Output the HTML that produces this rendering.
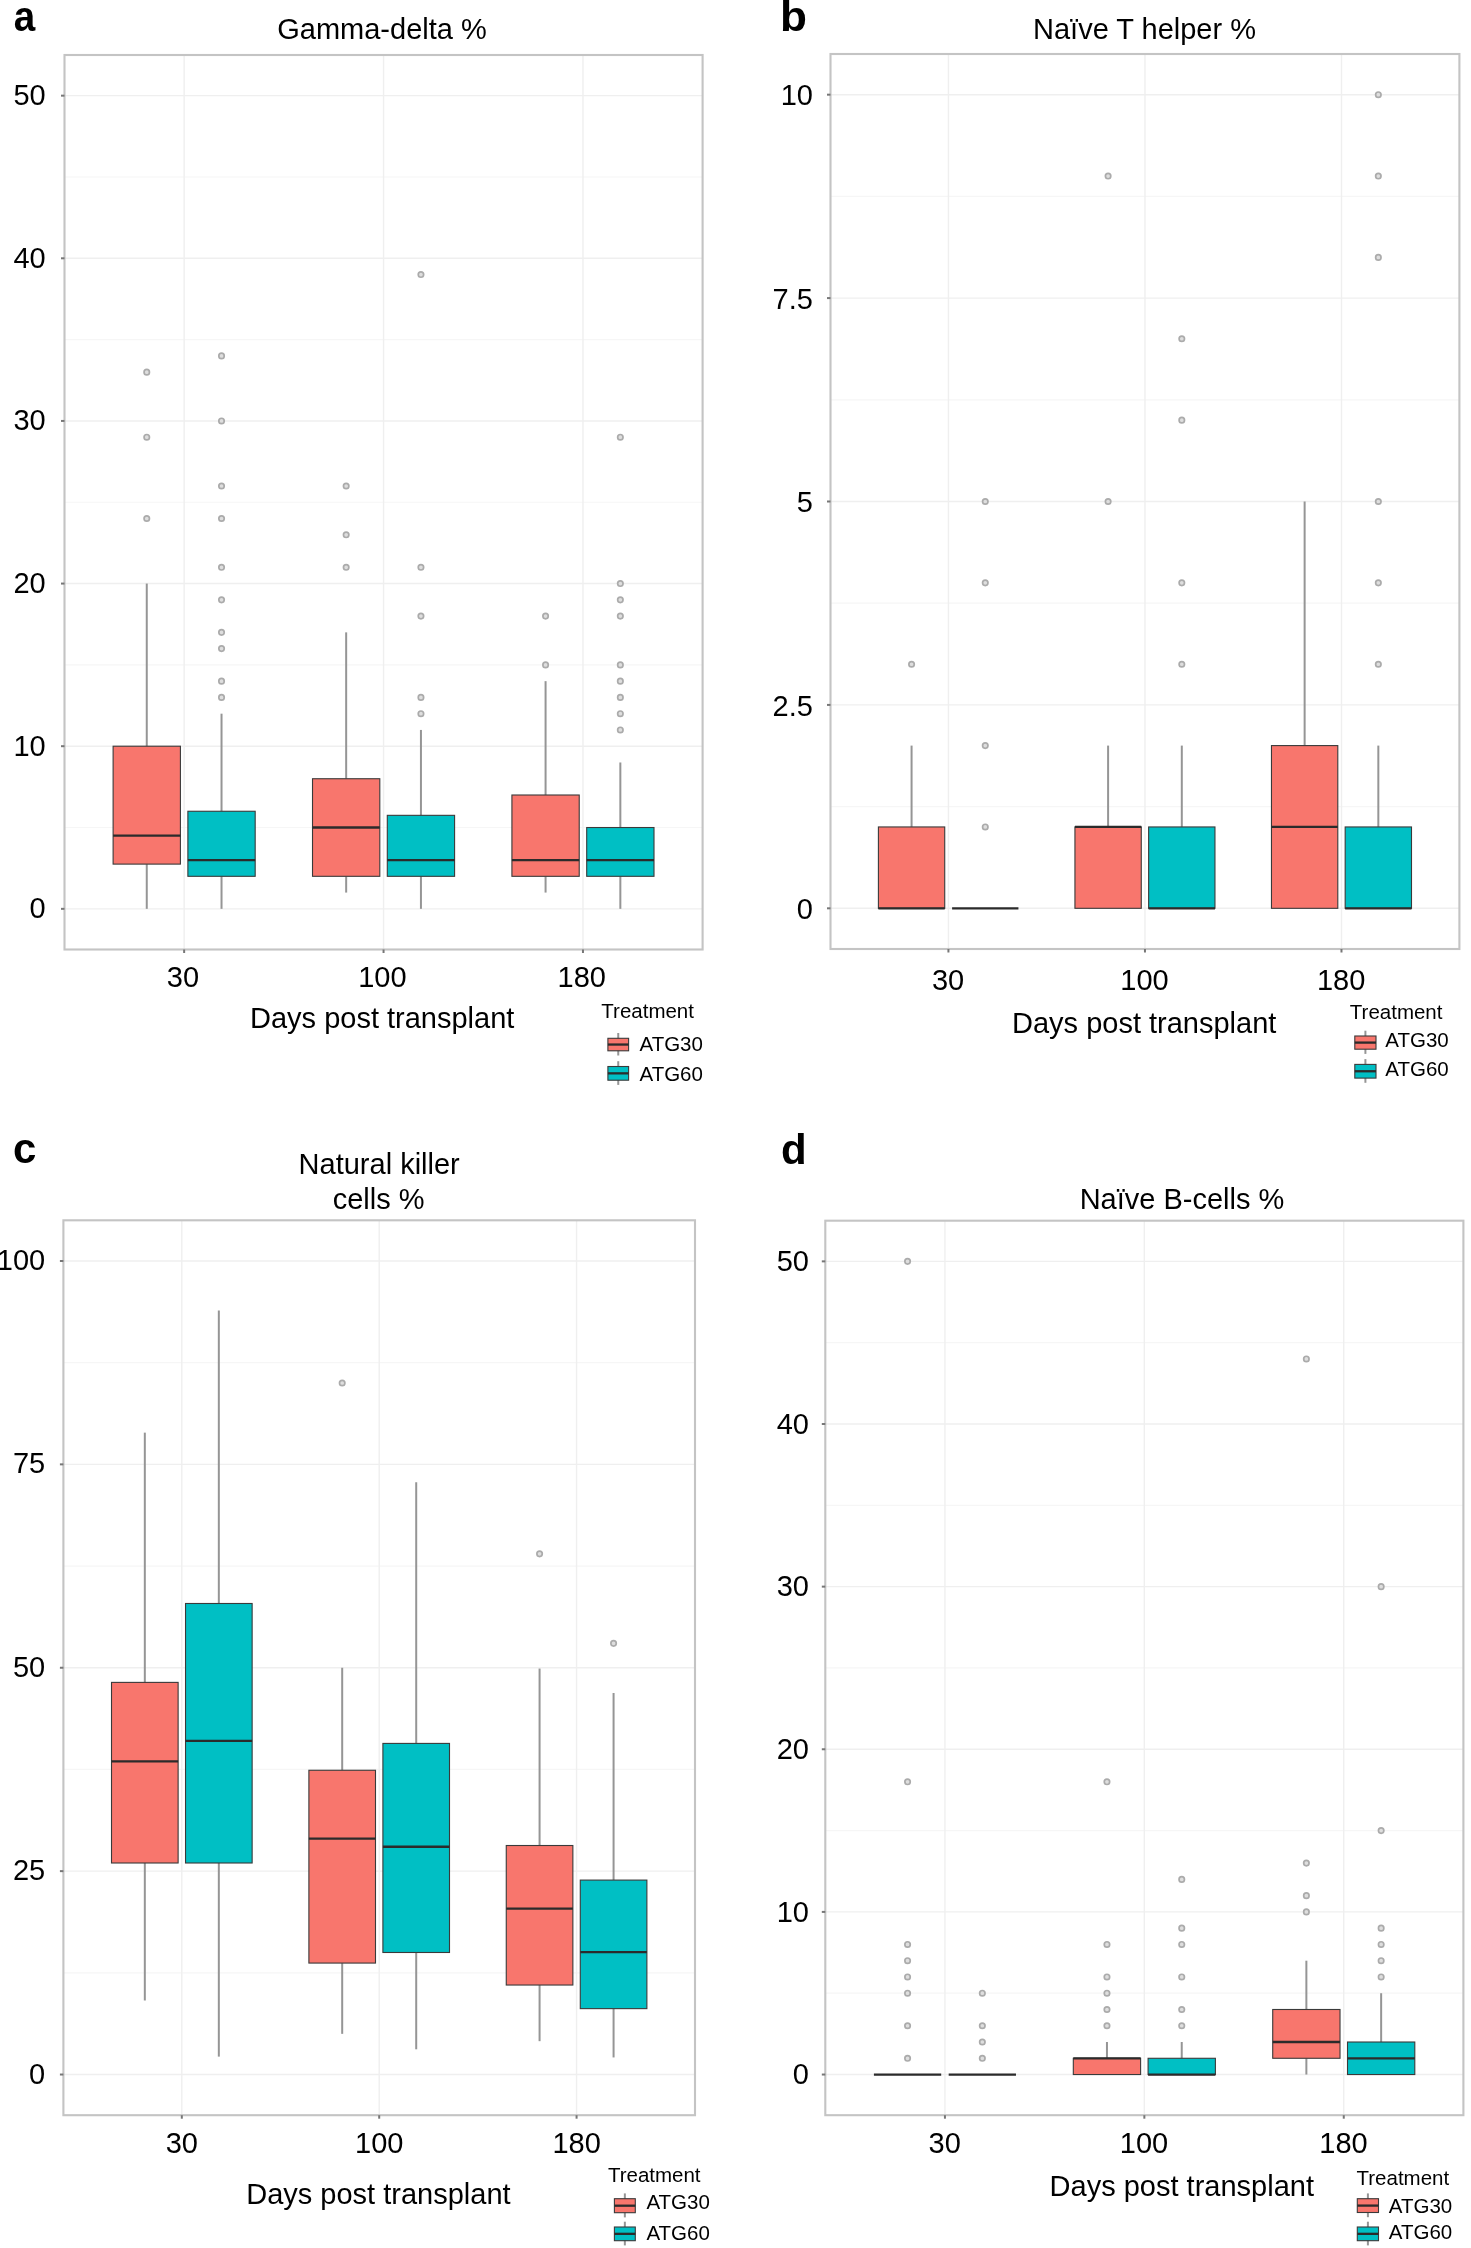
<!DOCTYPE html>
<html><head><meta charset="utf-8"><style>
html,body{margin:0;padding:0;background:#fff;}
svg{display:block;filter:blur(0.45px);}
text{font-family:"Liberation Sans", sans-serif;fill:#000;}
.g{stroke:#efefef;stroke-width:1.4;}
.gm{stroke:#f6f6f6;stroke-width:1.2;}
.w{stroke:#959595;stroke-width:2;}
.bx{stroke:#3a3a3a;stroke-width:1.1;}
.md{stroke:#2b2b2b;stroke-width:2.3;}
.o{fill:#dedede;stroke:#ababab;stroke-width:1.7;}
.bd{fill:none;stroke:#c4c4c4;stroke-width:2.1;}
.tk{stroke:#777;stroke-width:2;}
</style></head><body>
<svg width="1471" height="2248" viewBox="0 0 1471 2248">
<rect width="1471" height="2248" fill="#fff"/>
<line x1="64.5" x2="702.6" y1="827.52" y2="827.52" class="gm"/>
<line x1="64.5" x2="702.6" y1="664.89" y2="664.89" class="gm"/>
<line x1="64.5" x2="702.6" y1="502.25" y2="502.25" class="gm"/>
<line x1="64.5" x2="702.6" y1="339.61" y2="339.61" class="gm"/>
<line x1="64.5" x2="702.6" y1="176.98" y2="176.98" class="gm"/>
<line x1="64.5" x2="702.6" y1="908.84" y2="908.84" class="g"/>
<line x1="64.5" x2="702.6" y1="746.2" y2="746.2" class="g"/>
<line x1="64.5" x2="702.6" y1="583.57" y2="583.57" class="g"/>
<line x1="64.5" x2="702.6" y1="420.93" y2="420.93" class="g"/>
<line x1="64.5" x2="702.6" y1="258.3" y2="258.3" class="g"/>
<line x1="64.5" x2="702.6" y1="95.66" y2="95.66" class="g"/>
<line y1="55" y2="949.5" x1="184.14" x2="184.14" class="g"/>
<line y1="55" y2="949.5" x1="383.55" x2="383.55" class="g"/>
<line y1="55" y2="949.5" x1="582.96" x2="582.96" class="g"/>
<line x1="146.76" x2="146.76" y1="746.2" y2="583.57" class="w"/>
<line x1="146.76" x2="146.76" y1="864.12" y2="908.84" class="w"/>
<rect x="113.11" y="746.2" width="67.3" height="117.91" fill="#F8766D" class="bx"/>
<line x1="113.11" x2="180.4" y1="835.65" y2="835.65" class="md"/>
<circle cx="146.76" cy="518.51" r="2.7" class="o"/>
<circle cx="146.76" cy="437.2" r="2.7" class="o"/>
<circle cx="146.76" cy="372.14" r="2.7" class="o"/>
<line x1="221.53" x2="221.53" y1="811.26" y2="713.68" class="w"/>
<line x1="221.53" x2="221.53" y1="876.31" y2="908.84" class="w"/>
<rect x="187.88" y="811.26" width="67.3" height="65.05" fill="#00BFC4" class="bx"/>
<line x1="187.88" x2="255.18" y1="860.05" y2="860.05" class="md"/>
<circle cx="221.53" cy="697.41" r="2.7" class="o"/>
<circle cx="221.53" cy="681.15" r="2.7" class="o"/>
<circle cx="221.53" cy="648.62" r="2.7" class="o"/>
<circle cx="221.53" cy="632.36" r="2.7" class="o"/>
<circle cx="221.53" cy="599.83" r="2.7" class="o"/>
<circle cx="221.53" cy="567.3" r="2.7" class="o"/>
<circle cx="221.53" cy="518.51" r="2.7" class="o"/>
<circle cx="221.53" cy="485.99" r="2.7" class="o"/>
<circle cx="221.53" cy="420.93" r="2.7" class="o"/>
<circle cx="221.53" cy="355.88" r="2.7" class="o"/>
<line x1="346.16" x2="346.16" y1="778.73" y2="632.36" class="w"/>
<line x1="346.16" x2="346.16" y1="876.31" y2="892.58" class="w"/>
<rect x="312.51" y="778.73" width="67.3" height="97.58" fill="#F8766D" class="bx"/>
<line x1="312.51" x2="379.81" y1="827.52" y2="827.52" class="md"/>
<circle cx="346.16" cy="567.3" r="2.7" class="o"/>
<circle cx="346.16" cy="534.78" r="2.7" class="o"/>
<circle cx="346.16" cy="485.99" r="2.7" class="o"/>
<line x1="420.94" x2="420.94" y1="815.33" y2="729.94" class="w"/>
<line x1="420.94" x2="420.94" y1="876.31" y2="908.84" class="w"/>
<rect x="387.29" y="815.33" width="67.3" height="60.99" fill="#00BFC4" class="bx"/>
<line x1="387.29" x2="454.59" y1="860.05" y2="860.05" class="md"/>
<circle cx="420.94" cy="713.68" r="2.7" class="o"/>
<circle cx="420.94" cy="697.41" r="2.7" class="o"/>
<circle cx="420.94" cy="616.1" r="2.7" class="o"/>
<circle cx="420.94" cy="567.3" r="2.7" class="o"/>
<circle cx="420.94" cy="274.56" r="2.7" class="o"/>
<line x1="545.57" x2="545.57" y1="795" y2="681.15" class="w"/>
<line x1="545.57" x2="545.57" y1="876.31" y2="892.58" class="w"/>
<rect x="511.92" y="795" width="67.3" height="81.32" fill="#F8766D" class="bx"/>
<line x1="511.92" x2="579.22" y1="860.05" y2="860.05" class="md"/>
<circle cx="545.57" cy="664.89" r="2.7" class="o"/>
<circle cx="545.57" cy="616.1" r="2.7" class="o"/>
<line x1="620.34" x2="620.34" y1="827.52" y2="762.47" class="w"/>
<line x1="620.34" x2="620.34" y1="876.31" y2="908.84" class="w"/>
<rect x="586.7" y="827.52" width="67.3" height="48.79" fill="#00BFC4" class="bx"/>
<line x1="586.7" x2="653.99" y1="860.05" y2="860.05" class="md"/>
<circle cx="620.34" cy="729.94" r="2.7" class="o"/>
<circle cx="620.34" cy="713.68" r="2.7" class="o"/>
<circle cx="620.34" cy="697.41" r="2.7" class="o"/>
<circle cx="620.34" cy="681.15" r="2.7" class="o"/>
<circle cx="620.34" cy="664.89" r="2.7" class="o"/>
<circle cx="620.34" cy="616.1" r="2.7" class="o"/>
<circle cx="620.34" cy="599.83" r="2.7" class="o"/>
<circle cx="620.34" cy="583.57" r="2.7" class="o"/>
<circle cx="620.34" cy="437.2" r="2.7" class="o"/>
<rect x="64.5" y="55" width="638.1" height="894.5" class="bd"/>
<line x1="61" x2="64.5" y1="908.84" y2="908.84" class="tk"/>
<line x1="61" x2="64.5" y1="746.2" y2="746.2" class="tk"/>
<line x1="61" x2="64.5" y1="583.57" y2="583.57" class="tk"/>
<line x1="61" x2="64.5" y1="420.93" y2="420.93" class="tk"/>
<line x1="61" x2="64.5" y1="258.3" y2="258.3" class="tk"/>
<line x1="61" x2="64.5" y1="95.66" y2="95.66" class="tk"/>
<line y1="949.5" y2="953" x1="184.14" x2="184.14" class="tk"/>
<line y1="949.5" y2="953" x1="383.55" x2="383.55" class="tk"/>
<line y1="949.5" y2="953" x1="582.96" x2="582.96" class="tk"/>
<line x1="830.5" x2="1459.4" y1="806.61" y2="806.61" class="gm"/>
<line x1="830.5" x2="1459.4" y1="603.2" y2="603.2" class="gm"/>
<line x1="830.5" x2="1459.4" y1="399.8" y2="399.8" class="gm"/>
<line x1="830.5" x2="1459.4" y1="196.39" y2="196.39" class="gm"/>
<line x1="830.5" x2="1459.4" y1="908.32" y2="908.32" class="g"/>
<line x1="830.5" x2="1459.4" y1="704.91" y2="704.91" class="g"/>
<line x1="830.5" x2="1459.4" y1="501.5" y2="501.5" class="g"/>
<line x1="830.5" x2="1459.4" y1="298.09" y2="298.09" class="g"/>
<line x1="830.5" x2="1459.4" y1="94.68" y2="94.68" class="g"/>
<line y1="54" y2="949" x1="948.42" x2="948.42" class="g"/>
<line y1="54" y2="949" x1="1144.95" x2="1144.95" class="g"/>
<line y1="54" y2="949" x1="1341.48" x2="1341.48" class="g"/>
<line x1="911.57" x2="911.57" y1="826.95" y2="745.59" class="w"/>
<rect x="878.4" y="826.95" width="66.33" height="81.36" fill="#F8766D" class="bx"/>
<line x1="878.4" x2="944.73" y1="908.32" y2="908.32" class="md"/>
<circle cx="911.57" cy="664.23" r="2.7" class="o"/>
<rect x="952.1" y="908.32" width="66.33" height="0" fill="#00BFC4" class="bx"/>
<line x1="952.1" x2="1018.43" y1="908.32" y2="908.32" class="md"/>
<circle cx="985.27" cy="826.95" r="2.7" class="o"/>
<circle cx="985.27" cy="745.59" r="2.7" class="o"/>
<circle cx="985.27" cy="582.86" r="2.7" class="o"/>
<circle cx="985.27" cy="501.5" r="2.7" class="o"/>
<line x1="1108.1" x2="1108.1" y1="826.95" y2="745.59" class="w"/>
<rect x="1074.94" y="826.95" width="66.33" height="81.36" fill="#F8766D" class="bx"/>
<line x1="1074.94" x2="1141.27" y1="826.95" y2="826.95" class="md"/>
<circle cx="1108.1" cy="501.5" r="2.7" class="o"/>
<circle cx="1108.1" cy="176.05" r="2.7" class="o"/>
<line x1="1181.8" x2="1181.8" y1="826.95" y2="745.59" class="w"/>
<rect x="1148.63" y="826.95" width="66.33" height="81.36" fill="#00BFC4" class="bx"/>
<line x1="1148.63" x2="1214.96" y1="908.32" y2="908.32" class="md"/>
<circle cx="1181.8" cy="664.23" r="2.7" class="o"/>
<circle cx="1181.8" cy="582.86" r="2.7" class="o"/>
<circle cx="1181.8" cy="420.14" r="2.7" class="o"/>
<circle cx="1181.8" cy="338.77" r="2.7" class="o"/>
<line x1="1304.63" x2="1304.63" y1="745.59" y2="501.5" class="w"/>
<rect x="1271.47" y="745.59" width="66.33" height="162.73" fill="#F8766D" class="bx"/>
<line x1="1271.47" x2="1337.8" y1="826.95" y2="826.95" class="md"/>
<line x1="1378.33" x2="1378.33" y1="826.95" y2="745.59" class="w"/>
<rect x="1345.17" y="826.95" width="66.33" height="81.36" fill="#00BFC4" class="bx"/>
<line x1="1345.17" x2="1411.5" y1="908.32" y2="908.32" class="md"/>
<circle cx="1378.33" cy="664.23" r="2.7" class="o"/>
<circle cx="1378.33" cy="582.86" r="2.7" class="o"/>
<circle cx="1378.33" cy="501.5" r="2.7" class="o"/>
<circle cx="1378.33" cy="257.41" r="2.7" class="o"/>
<circle cx="1378.33" cy="176.05" r="2.7" class="o"/>
<circle cx="1378.33" cy="94.68" r="2.7" class="o"/>
<rect x="830.5" y="54" width="628.9" height="895" class="bd"/>
<line x1="827" x2="830.5" y1="908.32" y2="908.32" class="tk"/>
<line x1="827" x2="830.5" y1="704.91" y2="704.91" class="tk"/>
<line x1="827" x2="830.5" y1="501.5" y2="501.5" class="tk"/>
<line x1="827" x2="830.5" y1="298.09" y2="298.09" class="tk"/>
<line x1="827" x2="830.5" y1="94.68" y2="94.68" class="tk"/>
<line y1="949" y2="952.5" x1="948.42" x2="948.42" class="tk"/>
<line y1="949" y2="952.5" x1="1144.95" x2="1144.95" class="tk"/>
<line y1="949" y2="952.5" x1="1341.48" x2="1341.48" class="tk"/>
<line x1="63.4" x2="695" y1="1972.83" y2="1972.83" class="gm"/>
<line x1="63.4" x2="695" y1="1769.44" y2="1769.44" class="gm"/>
<line x1="63.4" x2="695" y1="1566.06" y2="1566.06" class="gm"/>
<line x1="63.4" x2="695" y1="1362.67" y2="1362.67" class="gm"/>
<line x1="63.4" x2="695" y1="2074.52" y2="2074.52" class="g"/>
<line x1="63.4" x2="695" y1="1871.14" y2="1871.14" class="g"/>
<line x1="63.4" x2="695" y1="1667.75" y2="1667.75" class="g"/>
<line x1="63.4" x2="695" y1="1464.36" y2="1464.36" class="g"/>
<line x1="63.4" x2="695" y1="1260.98" y2="1260.98" class="g"/>
<line y1="1220.3" y2="2115.2" x1="181.82" x2="181.82" class="g"/>
<line y1="1220.3" y2="2115.2" x1="379.2" x2="379.2" class="g"/>
<line y1="1220.3" y2="2115.2" x1="576.58" x2="576.58" class="g"/>
<line x1="144.82" x2="144.82" y1="1682.39" y2="1432.64" class="w"/>
<line x1="144.82" x2="144.82" y1="1863" y2="2000.49" class="w"/>
<rect x="111.51" y="1682.39" width="66.61" height="180.61" fill="#F8766D" class="bx"/>
<line x1="111.51" x2="178.12" y1="1761.31" y2="1761.31" class="md"/>
<line x1="218.83" x2="218.83" y1="1603.48" y2="1310.6" class="w"/>
<line x1="218.83" x2="218.83" y1="1863" y2="2056.62" class="w"/>
<rect x="185.53" y="1603.48" width="66.61" height="259.52" fill="#00BFC4" class="bx"/>
<line x1="185.53" x2="252.14" y1="1740.97" y2="1740.97" class="md"/>
<line x1="342.19" x2="342.19" y1="1770.26" y2="1667.75" class="w"/>
<line x1="342.19" x2="342.19" y1="1963.07" y2="2033.85" class="w"/>
<rect x="308.89" y="1770.26" width="66.61" height="192.81" fill="#F8766D" class="bx"/>
<line x1="308.89" x2="375.5" y1="1838.59" y2="1838.59" class="md"/>
<circle cx="342.19" cy="1383.01" r="2.7" class="o"/>
<line x1="416.21" x2="416.21" y1="1743.41" y2="1482.26" class="w"/>
<line x1="416.21" x2="416.21" y1="1952.49" y2="2049.3" class="w"/>
<rect x="382.9" y="1743.41" width="66.61" height="209.08" fill="#00BFC4" class="bx"/>
<line x1="382.9" x2="449.51" y1="1846.73" y2="1846.73" class="md"/>
<line x1="539.57" x2="539.57" y1="1845.51" y2="1668.56" class="w"/>
<line x1="539.57" x2="539.57" y1="1985.03" y2="2041.17" class="w"/>
<rect x="506.26" y="1845.51" width="66.61" height="139.52" fill="#F8766D" class="bx"/>
<line x1="506.26" x2="572.87" y1="1908.56" y2="1908.56" class="md"/>
<circle cx="539.57" cy="1553.85" r="2.7" class="o"/>
<line x1="613.58" x2="613.58" y1="1880.09" y2="1692.97" class="w"/>
<line x1="613.58" x2="613.58" y1="2008.63" y2="2057.44" class="w"/>
<rect x="580.28" y="1880.09" width="66.61" height="128.54" fill="#00BFC4" class="bx"/>
<line x1="580.28" x2="646.89" y1="1952.08" y2="1952.08" class="md"/>
<circle cx="613.58" cy="1643.34" r="2.7" class="o"/>
<rect x="63.4" y="1220.3" width="631.6" height="894.9" class="bd"/>
<line x1="59.9" x2="63.4" y1="2074.52" y2="2074.52" class="tk"/>
<line x1="59.9" x2="63.4" y1="1871.14" y2="1871.14" class="tk"/>
<line x1="59.9" x2="63.4" y1="1667.75" y2="1667.75" class="tk"/>
<line x1="59.9" x2="63.4" y1="1464.36" y2="1464.36" class="tk"/>
<line x1="59.9" x2="63.4" y1="1260.98" y2="1260.98" class="tk"/>
<line y1="2115.2" y2="2118.7" x1="181.82" x2="181.82" class="tk"/>
<line y1="2115.2" y2="2118.7" x1="379.2" x2="379.2" class="tk"/>
<line y1="2115.2" y2="2118.7" x1="576.58" x2="576.58" class="tk"/>
<line x1="825.3" x2="1463.4" y1="1993.22" y2="1993.22" class="gm"/>
<line x1="825.3" x2="1463.4" y1="1830.59" y2="1830.59" class="gm"/>
<line x1="825.3" x2="1463.4" y1="1667.95" y2="1667.95" class="gm"/>
<line x1="825.3" x2="1463.4" y1="1505.31" y2="1505.31" class="gm"/>
<line x1="825.3" x2="1463.4" y1="1342.68" y2="1342.68" class="gm"/>
<line x1="825.3" x2="1463.4" y1="2074.54" y2="2074.54" class="g"/>
<line x1="825.3" x2="1463.4" y1="1911.9" y2="1911.9" class="g"/>
<line x1="825.3" x2="1463.4" y1="1749.27" y2="1749.27" class="g"/>
<line x1="825.3" x2="1463.4" y1="1586.63" y2="1586.63" class="g"/>
<line x1="825.3" x2="1463.4" y1="1424" y2="1424" class="g"/>
<line x1="825.3" x2="1463.4" y1="1261.36" y2="1261.36" class="g"/>
<line y1="1220.7" y2="2115.2" x1="944.94" x2="944.94" class="g"/>
<line y1="1220.7" y2="2115.2" x1="1144.35" x2="1144.35" class="g"/>
<line y1="1220.7" y2="2115.2" x1="1343.76" x2="1343.76" class="g"/>
<rect x="873.91" y="2074.54" width="67.3" height="0" fill="#F8766D" class="bx"/>
<line x1="873.91" x2="941.2" y1="2074.54" y2="2074.54" class="md"/>
<circle cx="907.56" cy="2058.28" r="2.7" class="o"/>
<circle cx="907.56" cy="2025.75" r="2.7" class="o"/>
<circle cx="907.56" cy="1993.22" r="2.7" class="o"/>
<circle cx="907.56" cy="1976.96" r="2.7" class="o"/>
<circle cx="907.56" cy="1960.7" r="2.7" class="o"/>
<circle cx="907.56" cy="1944.43" r="2.7" class="o"/>
<circle cx="907.56" cy="1781.8" r="2.7" class="o"/>
<circle cx="907.56" cy="1261.36" r="2.7" class="o"/>
<rect x="948.68" y="2074.54" width="67.3" height="0" fill="#00BFC4" class="bx"/>
<line x1="948.68" x2="1015.98" y1="2074.54" y2="2074.54" class="md"/>
<circle cx="982.33" cy="2058.28" r="2.7" class="o"/>
<circle cx="982.33" cy="2042.01" r="2.7" class="o"/>
<circle cx="982.33" cy="2025.75" r="2.7" class="o"/>
<circle cx="982.33" cy="1993.22" r="2.7" class="o"/>
<line x1="1106.96" x2="1106.96" y1="2058.28" y2="2042.01" class="w"/>
<rect x="1073.31" y="2058.28" width="67.3" height="16.26" fill="#F8766D" class="bx"/>
<line x1="1073.31" x2="1140.61" y1="2058.28" y2="2058.28" class="md"/>
<circle cx="1106.96" cy="2025.75" r="2.7" class="o"/>
<circle cx="1106.96" cy="2009.49" r="2.7" class="o"/>
<circle cx="1106.96" cy="1993.22" r="2.7" class="o"/>
<circle cx="1106.96" cy="1976.96" r="2.7" class="o"/>
<circle cx="1106.96" cy="1944.43" r="2.7" class="o"/>
<circle cx="1106.96" cy="1781.8" r="2.7" class="o"/>
<line x1="1181.74" x2="1181.74" y1="2058.28" y2="2042.01" class="w"/>
<rect x="1148.09" y="2058.28" width="67.3" height="16.26" fill="#00BFC4" class="bx"/>
<line x1="1148.09" x2="1215.39" y1="2074.54" y2="2074.54" class="md"/>
<circle cx="1181.74" cy="2025.75" r="2.7" class="o"/>
<circle cx="1181.74" cy="2009.49" r="2.7" class="o"/>
<circle cx="1181.74" cy="1976.96" r="2.7" class="o"/>
<circle cx="1181.74" cy="1944.43" r="2.7" class="o"/>
<circle cx="1181.74" cy="1928.17" r="2.7" class="o"/>
<circle cx="1181.74" cy="1879.38" r="2.7" class="o"/>
<line x1="1306.37" x2="1306.37" y1="2009.49" y2="1960.7" class="w"/>
<line x1="1306.37" x2="1306.37" y1="2058.28" y2="2074.54" class="w"/>
<rect x="1272.72" y="2009.49" width="67.3" height="48.79" fill="#F8766D" class="bx"/>
<line x1="1272.72" x2="1340.02" y1="2042.01" y2="2042.01" class="md"/>
<circle cx="1306.37" cy="1911.9" r="2.7" class="o"/>
<circle cx="1306.37" cy="1895.64" r="2.7" class="o"/>
<circle cx="1306.37" cy="1863.11" r="2.7" class="o"/>
<circle cx="1306.37" cy="1358.94" r="2.7" class="o"/>
<line x1="1381.14" x2="1381.14" y1="2042.01" y2="1993.22" class="w"/>
<rect x="1347.5" y="2042.01" width="67.3" height="32.53" fill="#00BFC4" class="bx"/>
<line x1="1347.5" x2="1414.79" y1="2058.28" y2="2058.28" class="md"/>
<circle cx="1381.14" cy="1976.96" r="2.7" class="o"/>
<circle cx="1381.14" cy="1960.7" r="2.7" class="o"/>
<circle cx="1381.14" cy="1944.43" r="2.7" class="o"/>
<circle cx="1381.14" cy="1928.17" r="2.7" class="o"/>
<circle cx="1381.14" cy="1830.59" r="2.7" class="o"/>
<circle cx="1381.14" cy="1586.63" r="2.7" class="o"/>
<rect x="825.3" y="1220.7" width="638.1" height="894.5" class="bd"/>
<line x1="821.8" x2="825.3" y1="2074.54" y2="2074.54" class="tk"/>
<line x1="821.8" x2="825.3" y1="1911.9" y2="1911.9" class="tk"/>
<line x1="821.8" x2="825.3" y1="1749.27" y2="1749.27" class="tk"/>
<line x1="821.8" x2="825.3" y1="1586.63" y2="1586.63" class="tk"/>
<line x1="821.8" x2="825.3" y1="1424" y2="1424" class="tk"/>
<line x1="821.8" x2="825.3" y1="1261.36" y2="1261.36" class="tk"/>
<line y1="2115.2" y2="2118.7" x1="944.94" x2="944.94" class="tk"/>
<line y1="2115.2" y2="2118.7" x1="1144.35" x2="1144.35" class="tk"/>
<line y1="2115.2" y2="2118.7" x1="1343.76" x2="1343.76" class="tk"/>
<text transform="translate(13.7,31) scale(0.92,1)" font-size="42" font-weight="bold">a</text>
<text transform="translate(779.9,31.3) scale(1.05,1)" font-size="42" font-weight="bold">b</text>
<line x1="618.25" x2="618.25" y1="1033" y2="1055.5" class="w"/>
<rect x="607.9" y="1038.3" width="20.7" height="12.5" fill="#F8766D" class="bx"/>
<line x1="607.9" x2="628.6" y1="1044.55" y2="1044.55" class="md"/>
<line x1="618.25" x2="618.25" y1="1061.2" y2="1084.9" class="w"/>
<rect x="607.9" y="1066.5" width="20.7" height="13.7" fill="#00BFC4" class="bx"/>
<line x1="607.9" x2="628.6" y1="1073.35" y2="1073.35" class="md"/>
<line x1="1365.4" x2="1365.4" y1="1030.7" y2="1053.9" class="w"/>
<rect x="1354.8" y="1036" width="21.2" height="13.2" fill="#F8766D" class="bx"/>
<line x1="1354.8" x2="1376" y1="1042.6" y2="1042.6" class="md"/>
<line x1="1365.4" x2="1365.4" y1="1059.1" y2="1082.8" class="w"/>
<rect x="1354.8" y="1064.4" width="21.2" height="13.7" fill="#00BFC4" class="bx"/>
<line x1="1354.8" x2="1376" y1="1071.25" y2="1071.25" class="md"/>
<line x1="624.85" x2="624.85" y1="2193.4" y2="2217.4" class="w"/>
<rect x="614.4" y="2198.7" width="20.9" height="14" fill="#F8766D" class="bx"/>
<line x1="614.4" x2="635.3" y1="2205.7" y2="2205.7" class="md"/>
<line x1="624.85" x2="624.85" y1="2221.7" y2="2245.4" class="w"/>
<rect x="614.4" y="2227" width="20.9" height="13.7" fill="#00BFC4" class="bx"/>
<line x1="614.4" x2="635.3" y1="2233.85" y2="2233.85" class="md"/>
<line x1="1367.9" x2="1367.9" y1="2193.4" y2="2217.2" class="w"/>
<rect x="1357.3" y="2198.7" width="21.2" height="13.8" fill="#F8766D" class="bx"/>
<line x1="1357.3" x2="1378.5" y1="2205.6" y2="2205.6" class="md"/>
<line x1="1367.9" x2="1367.9" y1="2221.7" y2="2245.4" class="w"/>
<rect x="1357.3" y="2227" width="21.2" height="13.7" fill="#00BFC4" class="bx"/>
<line x1="1357.3" x2="1378.5" y1="2233.85" y2="2233.85" class="md"/>
<text x="45.7" y="918.14" font-size="29" text-anchor="end" font-weight="normal">0</text>
<text x="45.7" y="755.5" font-size="29" text-anchor="end" font-weight="normal">10</text>
<text x="45.7" y="592.87" font-size="29" text-anchor="end" font-weight="normal">20</text>
<text x="45.7" y="430.23" font-size="29" text-anchor="end" font-weight="normal">30</text>
<text x="45.7" y="267.6" font-size="29" text-anchor="end" font-weight="normal">40</text>
<text x="45.7" y="104.96" font-size="29" text-anchor="end" font-weight="normal">50</text>
<text x="182.94" y="987" font-size="29" text-anchor="middle" font-weight="normal">30</text>
<text x="382.35" y="987" font-size="29" text-anchor="middle" font-weight="normal">100</text>
<text x="581.76" y="987" font-size="29" text-anchor="middle" font-weight="normal">180</text>
<text x="812.9" y="918.92" font-size="29" text-anchor="end" font-weight="normal">0</text>
<text x="812.9" y="715.51" font-size="29" text-anchor="end" font-weight="normal">2.5</text>
<text x="812.9" y="512.1" font-size="29" text-anchor="end" font-weight="normal">5</text>
<text x="812.9" y="308.69" font-size="29" text-anchor="end" font-weight="normal">7.5</text>
<text x="812.9" y="105.28" font-size="29" text-anchor="end" font-weight="normal">10</text>
<text x="948.02" y="989.5" font-size="29" text-anchor="middle" font-weight="normal">30</text>
<text x="1144.55" y="989.5" font-size="29" text-anchor="middle" font-weight="normal">100</text>
<text x="1341.08" y="989.5" font-size="29" text-anchor="middle" font-weight="normal">180</text>
<text x="45.25" y="2083.52" font-size="29" text-anchor="end" font-weight="normal">0</text>
<text x="45.25" y="1880.14" font-size="29" text-anchor="end" font-weight="normal">25</text>
<text x="45.25" y="1676.75" font-size="29" text-anchor="end" font-weight="normal">50</text>
<text x="45.25" y="1473.36" font-size="29" text-anchor="end" font-weight="normal">75</text>
<text x="45.25" y="1269.98" font-size="29" text-anchor="end" font-weight="normal">100</text>
<text x="181.82" y="2152.7" font-size="29" text-anchor="middle" font-weight="normal">30</text>
<text x="379.2" y="2152.7" font-size="29" text-anchor="middle" font-weight="normal">100</text>
<text x="576.58" y="2152.7" font-size="29" text-anchor="middle" font-weight="normal">180</text>
<text x="808.9" y="2084.24" font-size="29" text-anchor="end" font-weight="normal">0</text>
<text x="808.9" y="1921.6" font-size="29" text-anchor="end" font-weight="normal">10</text>
<text x="808.9" y="1758.97" font-size="29" text-anchor="end" font-weight="normal">20</text>
<text x="808.9" y="1596.33" font-size="29" text-anchor="end" font-weight="normal">30</text>
<text x="808.9" y="1433.7" font-size="29" text-anchor="end" font-weight="normal">40</text>
<text x="808.9" y="1271.06" font-size="29" text-anchor="end" font-weight="normal">50</text>
<text x="944.64" y="2152.7" font-size="29" text-anchor="middle" font-weight="normal">30</text>
<text x="1144.05" y="2152.7" font-size="29" text-anchor="middle" font-weight="normal">100</text>
<text x="1343.46" y="2152.7" font-size="29" text-anchor="middle" font-weight="normal">180</text>
<text x="13" y="1163" font-size="42" text-anchor="start" font-weight="bold">c</text>
<text x="781" y="1163.5" font-size="42" text-anchor="start" font-weight="bold">d</text>
<text x="382" y="38.5" font-size="29" text-anchor="middle" font-weight="normal">Gamma-delta %</text>
<text x="1144.5" y="38.5" font-size="29" text-anchor="middle" font-weight="normal">Naïve T helper %</text>
<text x="379.2" y="1174.3" font-size="29" text-anchor="middle" font-weight="normal">Natural killer</text>
<text x="378.6" y="1209.1" font-size="29" text-anchor="middle" font-weight="normal">cells %</text>
<text x="1182" y="1208.8" font-size="29" text-anchor="middle" font-weight="normal">Naïve B-cells %</text>
<text x="382.2" y="1028.4" font-size="29" text-anchor="middle" font-weight="normal">Days post transplant</text>
<text x="1144.2" y="1032.5" font-size="29" text-anchor="middle" font-weight="normal">Days post transplant</text>
<text x="378.4" y="2204" font-size="29" text-anchor="middle" font-weight="normal">Days post transplant</text>
<text x="1181.8" y="2196" font-size="29" text-anchor="middle" font-weight="normal">Days post transplant</text>
<text x="601.3" y="1017.8" font-size="20.5" text-anchor="start" font-weight="normal">Treatment</text>
<text x="639.5" y="1050.5" font-size="20.5" text-anchor="start" font-weight="normal">ATG30</text>
<text x="639.5" y="1080.7" font-size="20.5" text-anchor="start" font-weight="normal">ATG60</text>
<text x="1349.8" y="1018.9" font-size="20.5" text-anchor="start" font-weight="normal">Treatment</text>
<text x="1385.3" y="1046.8" font-size="20.5" text-anchor="start" font-weight="normal">ATG30</text>
<text x="1385.3" y="1076.2" font-size="20.5" text-anchor="start" font-weight="normal">ATG60</text>
<text x="607.9" y="2181.6" font-size="20.5" text-anchor="start" font-weight="normal">Treatment</text>
<text x="646.4" y="2209" font-size="20.5" text-anchor="start" font-weight="normal">ATG30</text>
<text x="646.4" y="2239.5" font-size="20.5" text-anchor="start" font-weight="normal">ATG60</text>
<text x="1356.5" y="2184.7" font-size="20.5" text-anchor="start" font-weight="normal">Treatment</text>
<text x="1388.8" y="2212.6" font-size="20.5" text-anchor="start" font-weight="normal">ATG30</text>
<text x="1388.8" y="2238.5" font-size="20.5" text-anchor="start" font-weight="normal">ATG60</text>
</svg>
</body></html>
